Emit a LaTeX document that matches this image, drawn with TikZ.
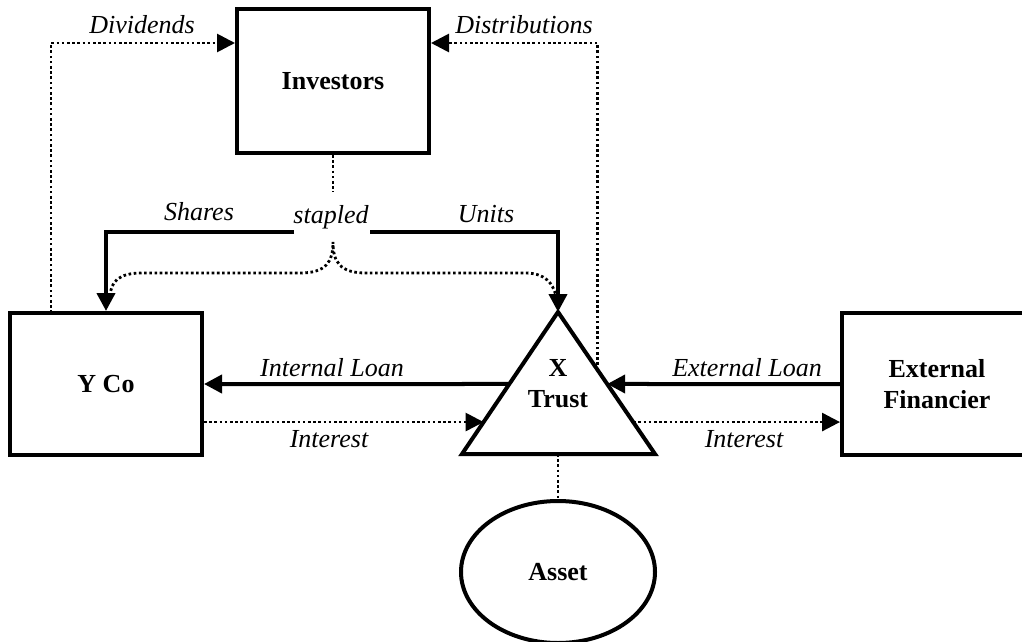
\documentclass[tikz,border=0pt]{standalone}
\usepackage{fontspec}
\setmainfont{Liberation Serif}
\usetikzlibrary{arrows.meta,calc,shapes.geometric}
\begin{document}
\begin{tikzpicture}[x=1pt,y=-1pt,
  box/.style={draw,line width=4pt,rectangle,inner sep=0pt,font=\fontsize{26}{31}\selectfont\bfseries,align=center},
  boldtxt/.style={inner sep=0pt,font=\fontsize{26}{31}\selectfont\bfseries,align=center},
  lbl/.style={font=\fontsize{26}{31}\selectfont\itshape,inner sep=0pt,anchor=base},
  solidarrow/.style={line width=4pt,-{Triangle[length=18pt,width=18pt]}},
  dotline/.style={line width=2.8pt,dash pattern=on 2.6pt off 2.6pt},
  dotarrow/.style={dotline,-{Triangle[length=18pt,width=18pt]}},
]
\useasboundingbox (0,0) rectangle (1022,642);

% nodes
\node[box,minimum width=192pt,minimum height=144pt] (inv) at (333,81) {Investors};
\node[box,minimum width=192pt,minimum height=142pt] (yco) at (106,384) {Y Co};
\node[box,minimum width=190pt,minimum height=142pt] (fin) at (937,384) {External\\Financier};
\node[draw,ellipse,line width=4pt,minimum width=194pt,minimum height=142pt,boldtxt] (asset) at (558,572) {Asset};

% triangle (X Trust)
\coordinate (apex) at (558,312);
\coordinate (tbl) at (462,454);
\coordinate (tbr) at (655,454);
\coordinate (tbase) at (558,454);
\draw[line width=4pt] (apex) -- (tbl) -- (tbr) -- cycle;
\node[boldtxt] (trust) at (558,384) {X\\Trust};

% points on the triangle edges
\coordinate (tL1) at ($(apex)!0.507!(tbl)$);
\coordinate (tL2) at ($(apex)!0.775!(tbl)$);
\coordinate (tR1) at ($(apex)!0.507!(tbr)$);
\coordinate (tR2) at ($(apex)!0.775!(tbr)$);
\coordinate (tR0) at ($(apex)!0.41!(tbr)$);

% routing helpers
\coordinate (divY) at (0,43);
\coordinate (divStart) at (51,313);
\coordinate (sL) at (294,232);
\coordinate (sR) at (370,232);
\coordinate (invDotEnd) at (333,192);
\coordinate (bpk) at (333,242);
\coordinate (bLend) at (110,296);
\coordinate (bRend) at (556,296);

% Dividends / Distributions
\draw[dotarrow] (divStart) |- (inv.west |- divY);
\draw[dotarrow] (tR0) |- (inv.east |- divY);

% Shares / Units
\node[lbl] (stapled) at (331,223) {stapled};
\draw[solidarrow] (sL) -| (yco.north);
\draw[solidarrow] (sR) -| (apex);
\draw[dotline] (inv.south) -- (invDotEnd);
\draw[dotline] (bLend) .. controls (111,282) and (118,273) .. (142,273) -- (300,273)
  .. controls (326,273) and (333,262) .. (bpk)
  .. controls (333,262) and (340,273) .. (366,273) -- (525,273)
  .. controls (546,273) and (553,284) .. (bRend);

% Loans and interest
\draw[solidarrow] (tL1) -- (yco.east);
\draw[dotarrow] (yco.east |- tL2) -- (tL2);
\draw[solidarrow] (fin.west) -- (tR1);
\draw[dotarrow] (tR2) -- (fin.west |- tR2);
\draw[dotline] (tbase) -- (asset.north);

% labels
\node[lbl] (ldiv) at (142,34) {Dividends};
\node[lbl] (ldis) at (524,34) {Distributions};
\node[lbl] (lsh) at (199,220) {Shares};
\node[lbl] (lun) at (486,222) {Units};
\node[lbl] (lil) at (332,376) {Internal Loan};
\node[lbl] (lint1) at (329,447) {Interest};
\node[lbl] (lel) at (747,376) {External Loan};
\node[lbl] (lint2) at (744,447) {Interest};
\end{tikzpicture}
\end{document}
